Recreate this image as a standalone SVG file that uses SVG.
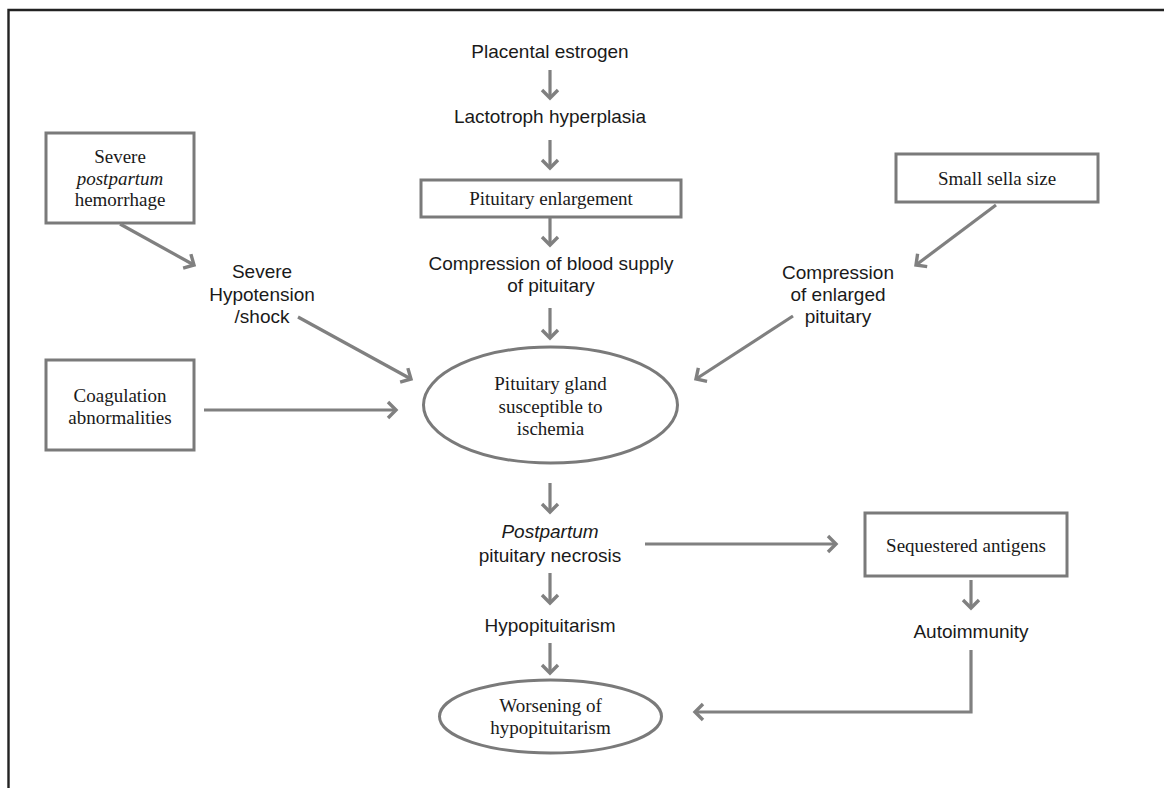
<svg xmlns="http://www.w3.org/2000/svg" width="1164" height="788" viewBox="0 0 1164 788">
<style>
.sans{font-family:"Liberation Sans",Arial,sans-serif;font-size:19px;fill:#1a1a1a;text-anchor:middle}
.serif{font-family:"Liberation Serif","Times New Roman",serif;font-size:19px;fill:#1a1a1a;text-anchor:middle}
.box{fill:#fff;stroke:#7a7a7a;stroke-width:3}
.conn{fill:none;stroke:#808080;stroke-width:3.2;marker-end:url(#arr)}
</style>
<defs>
<marker id="arr" markerUnits="userSpaceOnUse" markerWidth="24" markerHeight="24" viewBox="-12 -12 24 24" refX="0" refY="0" orient="auto">
<path d="M-8,-8 L0,0 L-8,8" fill="none" stroke="#808080" stroke-width="3.4" stroke-linejoin="miter"/>
</marker>
</defs>
<rect width="1164" height="788" fill="#fff"/>
<path d="M8.5,788 V10 H1164" fill="none" stroke="#222" stroke-width="2.4"/>

<g id="placental"><text class="sans" x="550" y="58">Placental estrogen</text></g>
<g id="lactotroph"><text class="sans" x="550" y="123">Lactotroph hyperplasia</text></g>
<g id="enlargement"><rect class="box" x="421" y="180" width="260" height="37"/><text class="serif" x="551" y="205">Pituitary enlargement</text></g>
<g id="compression-blood"><text class="sans" x="551" y="270">Compression of blood supply</text><text class="sans" x="551" y="292">of pituitary</text></g>
<g id="susceptible"><ellipse class="box" cx="550.5" cy="405" rx="127" ry="58"/><text class="serif" x="550.5" y="390">Pituitary gland</text><text class="serif" x="550.5" y="413">susceptible to</text><text class="serif" x="550.5" y="435">ischemia</text></g>
<g id="necrosis"><text class="sans" x="550" y="538" font-style="italic">Postpartum</text><text class="sans" x="550" y="562">pituitary necrosis</text></g>
<g id="hypopit"><text class="sans" x="550" y="632">Hypopituitarism</text></g>
<g id="worsening"><ellipse class="box" cx="550.5" cy="716.5" rx="111" ry="36.5"/><text class="serif" x="550.5" y="712">Worsening of</text><text class="serif" x="550.5" y="734">hypopituitarism</text></g>
<g id="hemorrhage"><rect class="box" x="46" y="133" width="148" height="90"/><text class="serif" x="120" y="163">Severe</text><text class="serif" x="120" y="185" font-style="italic">postpartum</text><text class="serif" x="120" y="206">hemorrhage</text></g>
<g id="hypotension"><text class="sans" x="262" y="278">Severe</text><text class="sans" x="262" y="301">Hypotension</text><text class="sans" x="262" y="323">/shock</text></g>
<g id="coagulation"><rect class="box" x="46" y="360" width="148" height="90"/><text class="serif" x="120" y="402">Coagulation</text><text class="serif" x="120" y="424">abnormalities</text></g>
<g id="sella"><rect class="box" x="896" y="154" width="202" height="48"/><text class="serif" x="997" y="185">Small sella size</text></g>
<g id="compression-enlarged"><text class="sans" x="838" y="279">Compression</text><text class="sans" x="838" y="301">of enlarged</text><text class="sans" x="838" y="323">pituitary</text></g>
<g id="sequestered"><rect class="box" x="865" y="513" width="202" height="63"/><text class="serif" x="966" y="552">Sequestered antigens</text></g>
<g id="autoimmunity"><text class="sans" x="971" y="638">Autoimmunity</text></g>

<g id="connectors">
<path class="conn" d="M550,70 V98"/>
<path class="conn" d="M550,140 V168"/>
<path class="conn" d="M550,218 V245"/>
<path class="conn" d="M550,308 V338"/>
<path class="conn" d="M550,483 V512"/>
<path class="conn" d="M550,573 V603"/>
<path class="conn" d="M550,643 V673"/>
<path class="conn" d="M120,224 L194,265"/>
<path class="conn" d="M298,317 L411,379"/>
<path class="conn" d="M204,410 L396,410"/>
<path class="conn" d="M996,205 L916,265"/>
<path class="conn" d="M793,316 L696,379"/>
<path class="conn" d="M645,544 L836,544"/>
<path class="conn" d="M971,580 V608"/>
<path class="conn" d="M971,650 V712 H695"/>
</g>
</svg>
